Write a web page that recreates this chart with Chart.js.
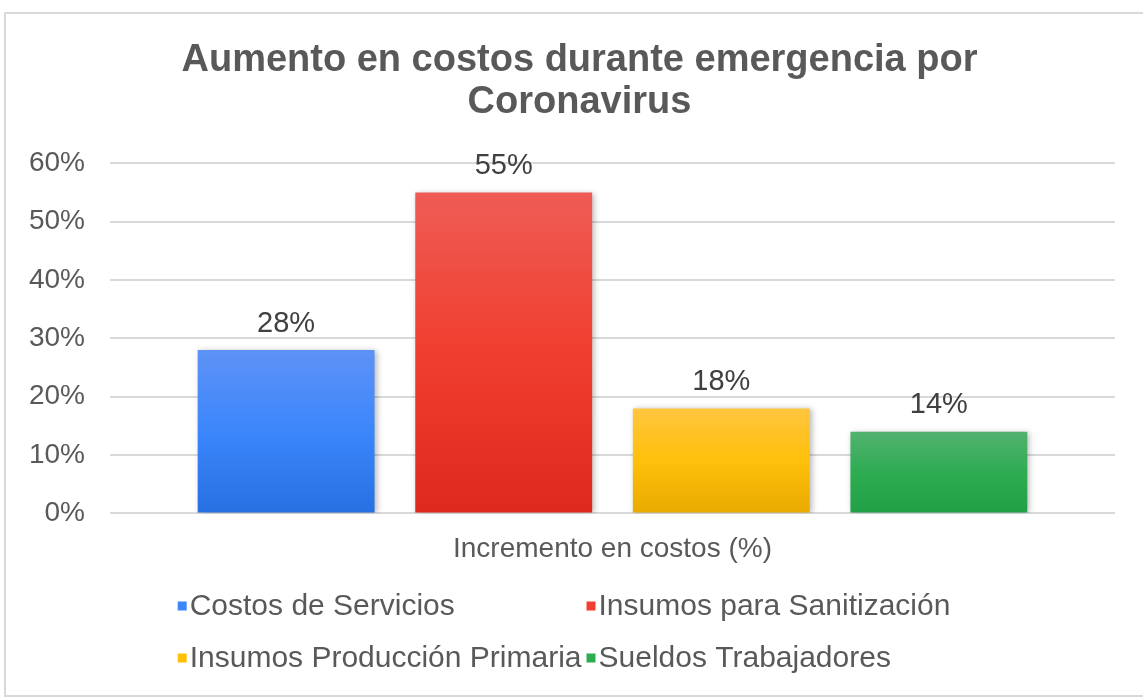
<!DOCTYPE html>
<html>
<head>
<meta charset="utf-8">
<script src="https://cdn.jsdelivr.net/npm/chart.js@4/dist/chart.umd.min.js"></script>
<style>
  html, body { margin: 0; padding: 0; background: #ffffff; }
  #wrap { width: 1143px; height: 698px; position: relative; }
</style>
</head>
<body>
<div id="wrap"><canvas id="c" width="1143" height="698"></canvas></div>
<script>
// ---- data ----
const titleLines = ['Aumento en costos durante emergencia por', 'Coronavirus'];
const categories = ['Incremento en costos (%)'];
const seriesNames = ['Costos de Servicios', 'Insumos para Sanitización', 'Insumos Producción Primaria', 'Sueldos Trabajadores'];
const costosServicios = [0.28];
const insumosSanitizacion = [0.55];
const insumosProduccion = [0.18];
const sueldosTrabajadores = [0.14];
const yTickLabels = ['0%', '10%', '20%', '30%', '40%', '50%', '60%'];

// ---- styles ----
const FONT = "'Liberation Sans', Arial, sans-serif";
const gradStops = [
  ['#5E92F6', '#3B86FB', '#2670E2'],
  ['#EE5C55', '#F03E2F', '#DE291E'],
  ['#FFC63F', '#FFBF0A', '#E8AA00'],
  ['#52B26F', '#2EAC52', '#22A047']
];
const legendColors = ['#3B86FB', '#F03E2F', '#FFBF0A', '#2EAC52'];

function gradFor(i) {
  return function (ctx) {
    const chart = ctx.chart;
    const area = chart.chartArea;
    const ys = chart.scales && chart.scales.y;
    if (!area || !ys || ctx.raw === undefined) return legendColors[i];
    const top = ys.getPixelForValue(ctx.raw);
    const bottom = ys.getPixelForValue(0);
    if (!isFinite(top) || !isFinite(bottom) || top === bottom) return legendColors[i];
    const g = chart.ctx.createLinearGradient(0, top, 0, bottom);
    g.addColorStop(0, gradStops[i][0]);
    g.addColorStop(0.5, gradStops[i][1]);
    g.addColorStop(1, gradStops[i][2]);
    return g;
  };
}

const seriesValues = [costosServicios, insumosSanitizacion, insumosProduccion, sueldosTrabajadores];
const datasets = seriesNames.map((name, i) => ({
  label: name,
  data: seriesValues[i],
  backgroundColor: gradFor(i),
  borderWidth: 0,
  categoryPercentage: 0.866,
  barPercentage: 0.813
}));

const fmtPct = v => Math.round(Number(v) * 100) + '%';

const framePlugin = {
  id: 'frame',
  beforeDraw(chart) {
    const ctx = chart.ctx;
    ctx.save();
    ctx.fillStyle = '#ffffff';
    ctx.fillRect(0, 0, chart.width, chart.height);
    ctx.strokeStyle = '#d9d9d9';
    ctx.lineWidth = 2;
    ctx.strokeRect(5, 13, chart.width + 10, chart.height - 15);
    ctx.restore();
  },
  afterLayout(chart) {
    // centre the title like the reference (slightly right of canvas centre)
    if (chart.titleBlock) chart.titleBlock.left += 28;
  }
};

const shadowPlugin = {
  id: 'barShadow',
  beforeDatasetsDraw(chart) {
    const ctx = chart.ctx;
    ctx.save();
    ctx.shadowColor = 'rgba(0,0,0,0.28)';
    ctx.shadowBlur = 6;
    ctx.shadowOffsetX = 2;
    ctx.shadowOffsetY = 1;
  },
  afterDatasetsDraw(chart) {
    const ctx = chart.ctx;
    ctx.restore();
    // data labels
    ctx.save();
    ctx.font = '29px ' + FONT;
    ctx.fillStyle = '#404040';
    ctx.textAlign = 'center';
    ctx.textBaseline = 'bottom';
    chart.data.datasets.forEach((ds, i) => {
      const meta = chart.getDatasetMeta(i);
      meta.data.forEach((el, j) => {
        ctx.fillText(fmtPct(ds.data[j]), el.x, el.y - 12);
      });
    });
    ctx.restore();
  }
};

const gridLegendPlugin = {
  id: 'gridLegend',
  afterDraw(chart) {
    const ctx = chart.ctx;
    ctx.save();
    ctx.font = '30px ' + FONT;
    ctx.textBaseline = 'middle';
    ctx.textAlign = 'left';
    const box = 9, gap = 3, colGap = 5;
    let maxW = 0;
    seriesNames.forEach(n => { maxW = Math.max(maxW, ctx.measureText(n).width); });
    const colW = box + gap + maxW + colGap;
    const cols = 2;
    const tb = chart.titleBlock;
    const cx = tb ? (tb.left + tb.right) / 2 : (chart.chartArea.left + chart.chartArea.right) / 2;
    const x0 = cx - colW + 7;
    const rowY = [606, 658];
    seriesNames.forEach((n, i) => {
      const c = i % cols, r = Math.floor(i / cols);
      const x = x0 + c * colW;
      const y = rowY[r];
      ctx.fillStyle = legendColors[i];
      ctx.fillRect(x, y - box / 2, box, box);
      ctx.fillStyle = '#595959';
      ctx.fillText(n, x + box + gap, y + 1);
    });
    ctx.restore();
  }
};

new Chart(document.getElementById('c'), {
  type: 'bar',
  data: { labels: categories, datasets: datasets },
  options: {
    responsive: false,
    animation: false,
    layout: { padding: { left: 16, right: 28, top: 12, bottom: 113 } },
    plugins: {
      legend: { display: false },
      tooltip: { enabled: false },
      title: {
        display: true,
        text: titleLines,
        color: '#595959',
        font: { family: FONT, size: 38, weight: 'bold', lineHeight: 1.11 },
        padding: { top: 27, bottom: 40 }
      }
    },
    scales: {
      x: {
        grid: { display: false, drawTicks: false },
        border: { display: false },
        ticks: { color: '#595959', font: { family: FONT, size: 28 }, padding: 19 }
      },
      y: {
        min: 0,
        max: 0.6,
        afterFit(scale) { scale.width = 94; },
        grid: { color: '#d9d9d9', lineWidth: 2, drawTicks: false },
        border: { display: false },
        ticks: {
          stepSize: 0.1,
          color: '#595959',
          font: { family: FONT, size: 28 },
          padding: 25,
          callback: (v, i) => yTickLabels[i]
        }
      }
    }
  },
  plugins: [framePlugin, shadowPlugin, gridLegendPlugin]
});
</script>
</body>
</html>
